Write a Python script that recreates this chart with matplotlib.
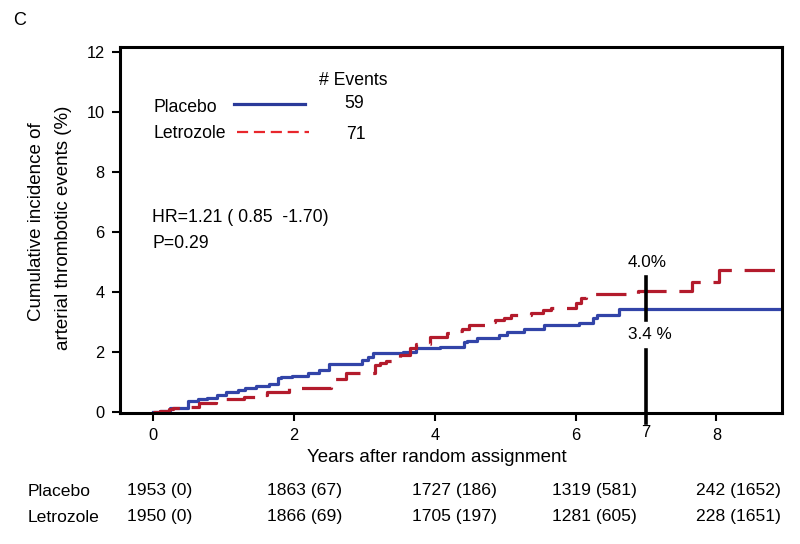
import matplotlib
matplotlib.use("Agg")
import matplotlib.pyplot as plt

plt.rcParams['font.family'] = ['Liberation Sans', 'DejaVu Sans']

# cumulative incidence curves (years, %)
placebo_t = [0, 0.1, 0.24, 0.5, 0.64, 0.77, 0.91, 1.03, 1.21, 1.31, 1.46, 1.64, 1.77, 1.81,
             1.98, 2.2, 2.36, 2.5, 2.96, 3.05, 3.12, 3.55, 3.74, 4.07, 4.41, 4.46, 4.6, 4.91,
             5.03, 5.27, 5.55, 6.05, 6.24, 6.31, 6.62, 8.93]
placebo_y = [0, 0.05, 0.13, 0.38, 0.43, 0.48, 0.57, 0.68, 0.73, 0.8, 0.87, 0.93, 1.13, 1.16,
             1.2, 1.29, 1.4, 1.6, 1.73, 1.84, 1.98, 2.01, 2.12, 2.18, 2.34, 2.38, 2.46, 2.57,
             2.68, 2.78, 2.9, 2.98, 3.12, 3.23, 3.45, 3.45]

letrozole_t = [0, 0.1, 0.22, 0.29, 0.46, 0.65, 0.89, 0.96, 1.29, 1.53, 1.62, 1.93, 2.53, 2.74,
               3.15, 3.22, 3.31, 3.41, 3.5, 3.65, 3.74, 3.93, 4.17, 4.24, 4.39, 4.48, 4.74,
               4.86, 4.98, 5.08, 5.36, 5.53, 5.65, 6.0, 6.08, 6.15, 6.89, 7.65, 8.03, 8.93]
letrozole_y = [0, 0.05, 0.1, 0.12, 0.18, 0.31, 0.38, 0.43, 0.49, 0.57, 0.68, 0.79, 1.1, 1.29,
               1.57, 1.64, 1.71, 1.81, 1.9, 2.12, 2.26, 2.51, 2.62, 2.7, 2.77, 2.9, 3.01,
               3.07, 3.14, 3.23, 3.31, 3.4, 3.48, 3.62, 3.79, 3.93, 4.05, 4.34, 4.73, 4.73]

groups = ['Placebo', 'Letrozole']
n_events = [59, 71]
risk_placebo = ['1953 (0)', '1863 (67)', '1727 (186)', '1319 (581)', '242 (1652)']
risk_letrozole = ['1950 (0)', '1866 (69)', '1705 (197)', '1281 (605)', '228 (1651)']
xticks = [0, 2, 4, 6, 8]
yticks = [0, 2, 4, 6, 8, 10, 12]
mark_year = 7
mark_labels = ['4.0%', '3.4 %']

blue = '#3244A8'
red = '#B31B2C'

fig = plt.figure(figsize=(8, 5.44), dpi=100)
ax = fig.add_axes([120 / 800, 1 - 413 / 544, 662 / 800, 366 / 544])

ax.plot(placebo_t, placebo_y, drawstyle='steps-post', color=blue, lw=2.3)
ax.plot(letrozole_t, letrozole_y, drawstyle='steps-post', color=red, lw=2.3,
        linestyle=(0, (9.5, 4.0)))

ax.set_xlim(-0.469, 8.93)
ax.set_ylim(-0.033, 12.17)
ax.set_xticks(xticks)
ax.set_yticks(yticks)
ax.tick_params(axis='both', labelsize=11.8, width=1.5, length=5.5, pad=5.5)
for s in ax.spines.values():
    s.set_linewidth(2.2)

# year 7 marker
ax.plot([mark_year, mark_year], [4.5, 3.07], color='black', lw=2.6)
ax.plot([mark_year, mark_year], [2.07, -0.37], color='black', lw=2.6, clip_on=False)
ax.text(mark_year, -0.67, str(mark_year), ha='center', va='center', fontsize=11.8, clip_on=False)
ax.text(7.02, 4.84, mark_labels[0], ha='center', va='baseline', fontsize=12.3)
ax.text(7.05, 2.43, mark_labels[1], ha='center', va='baseline', fontsize=12.3)

# legend block
ax.text(2.84, 10.9, '# Events', ha='center', va='baseline', fontsize=12.7)
ax.text(0.01, 9.99, groups[0], ha='left', va='baseline', fontsize=12.7)
ax.text(0.01, 9.12, groups[1], ha='left', va='baseline', fontsize=12.7)
ax.plot([1.15, 2.16], [10.27, 10.27], color='#2A3A99', lw=2.3)
ax.plot([1.19, 2.22], [9.33, 9.33], color='#E8262C', lw=1.6, linestyle=(0, (5, 2.6)))
ax.text(2.86, 10.12, str(n_events[0]), ha='center', va='baseline', fontsize=12.7)
ax.text(2.88, 9.09, str(n_events[1]), ha='center', va='baseline', fontsize=12.7)

ax.text(-0.01, 6.34, 'HR=1.21 ( 0.85  -1.70)', ha='left', va='baseline', fontsize=12.7)
ax.text(-0.01, 5.46, 'P=0.29', ha='left', va='baseline', fontsize=12.7)

# axis labels
fig.text(37 / 800, 1 - 222 / 544, 'Cumulative incidence of', rotation=90,
         ha='center', va='center', fontsize=13.5)
fig.text(64 / 800, 1 - 228 / 544, 'arterial thrombotic events (%)', rotation=90,
         ha='center', va='center', fontsize=13.5)
fig.text(437 / 800, 1 - 462 / 544, 'Years after random assignment', ha='center',
         va='baseline', fontsize=13.5)
fig.text(13 / 800, 1 - 25 / 544, 'C', ha='left', va='baseline', fontsize=13)

# number at risk table
col_x = [127, 267, 412, 552, 696]
for row_y, name, vals in [(491, groups[0], risk_placebo), (517, groups[1], risk_letrozole)]:
    fig.text(28 / 800, 1 - row_y / 544, name, ha='left', va='center', fontsize=12.6)
    for cx, v in zip(col_x, vals):
        fig.text(cx / 800, 1 - row_y / 544, v, ha='left', va='center', fontsize=12.6)

fig.savefig('out.png', dpi=100)
